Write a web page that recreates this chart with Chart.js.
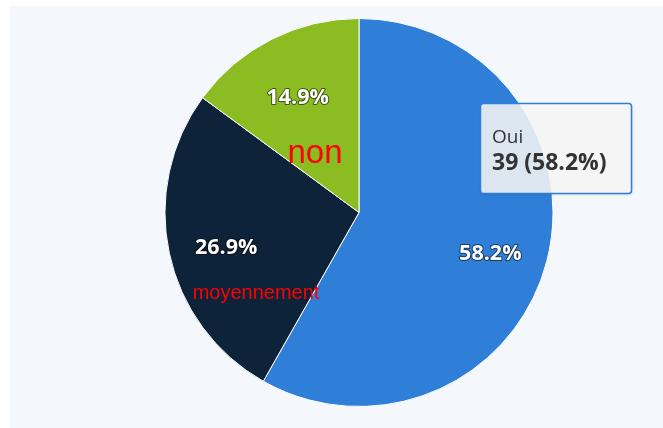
<!DOCTYPE html>
<html>
<head>
<meta charset="utf-8">
<script src="https://cdn.jsdelivr.net/npm/chart.js@4/dist/chart.umd.min.js"></script>
<style>
html,body{margin:0;padding:0;background:#ffffff;}
#wrap{position:relative;width:663px;height:428px;}
</style>
</head>
<body>
<div id="wrap"><canvas id="c" width="663" height="428"></canvas></div>
<script>
const categories = ['Oui', 'moyennement', 'non'];
const counts = [39, 18, 10];
const sliceColors = ['#2f7ed8', '#0d233a', '#8bbc21'];
const annotationTexts = ['non', 'moyennement'];
const tooltipIndex = 0;

const total = counts.reduce((a, b) => a + b, 0);
const pct = v => (v / total * 100).toFixed(1) + '%';

const bgPlugin = {
  id: 'bg',
  beforeDraw(chart) {
    const ctx = chart.ctx;
    ctx.save();
    ctx.fillStyle = '#ffffff';
    ctx.fillRect(0, 0, chart.width, chart.height);
    ctx.fillStyle = '#f4f8fc';
    ctx.fillRect(10, 6, chart.width - 10, chart.height - 6);
    ctx.restore();
  }
};

const labelPlugin = {
  id: 'labels',
  afterDatasetsDraw(chart) {
    const ctx = chart.ctx;
    const meta = chart.getDatasetMeta(0);
    ctx.save();
    ctx.font = 'bold 21.5px "Open Sans", sans-serif';
    ctx.textAlign = 'center';
    ctx.textBaseline = 'middle';
    meta.data.forEach((arc, i) => {
      const p = arc.getProps(['x', 'y', 'startAngle', 'endAngle', 'outerRadius']);
      const mid = (p.startAngle + p.endAngle) / 2;
      const r = p.outerRadius * 0.7;
      const x = p.x + Math.cos(mid) * r;
      const y = p.y + Math.sin(mid) * r + 7;
      const t = pct(counts[i]);
      ctx.lineJoin = 'round';
      ctx.strokeStyle = 'rgba(0,0,0,0.55)';
      ctx.lineWidth = 2;
      ctx.strokeText(t, x, y);
      ctx.fillStyle = '#ffffff';
      ctx.fillText(t, x, y);
    });
    // red annotations
    const c = meta.data[0];
    const cx = c.x, cy = c.y;
    ctx.fillStyle = '#ff0000';
    ctx.textBaseline = 'alphabetic';
    ctx.font = '33px "Liberation Sans", Arial, sans-serif';
    ctx.fillText(annotationTexts[0], cx - 44, cy - 49.5);
    ctx.font = '20px "Liberation Sans", Arial, sans-serif';
    ctx.fillText(annotationTexts[1], cx - 103, cy + 86);

    // tooltip
    const bx = 480.5, by = 103.5, bw = 151, bh = 90, rad = 3;
    ctx.save();
    ctx.shadowColor = 'rgba(0,0,0,0.18)';
    ctx.shadowOffsetX = 1;
    ctx.shadowOffsetY = 1;
    ctx.shadowBlur = 3;
    ctx.beginPath();
    ctx.roundRect(bx, by, bw, bh, rad);
    ctx.fillStyle = 'rgba(251,251,251,0.85)';
    ctx.fill();
    ctx.restore();
    ctx.beginPath();
    ctx.roundRect(bx, by, bw, bh, rad);
    ctx.strokeStyle = sliceColors[tooltipIndex];
    ctx.lineWidth = 1.5;
    ctx.stroke();
    ctx.textAlign = 'left';
    ctx.textBaseline = 'alphabetic';
    ctx.fillStyle = '#333333';
    ctx.font = '19px "Open Sans", sans-serif';
    ctx.fillText(categories[tooltipIndex], 492, 143);
    ctx.font = 'bold 23px "Open Sans", sans-serif';
    ctx.fillText(counts[tooltipIndex] + ' (' + pct(counts[tooltipIndex]) + ')', 492, 170);
    ctx.restore();
  }
};

new Chart(document.getElementById('c'), {
  type: 'pie',
  data: {
    labels: categories,
    datasets: [{
      data: counts,
      backgroundColor: sliceColors,
      borderColor: '#ffffff',
      borderWidth: 1,
      hoverOffset: 0
    }]
  },
  options: {
    responsive: false,
    animation: false,
    events: [],
    layout: { padding: { left: 55, right: 0, top: 18, bottom: 21 } },
    plugins: {
      legend: { display: false },
      tooltip: { enabled: false },
      title: { display: false }
    }
  },
  plugins: [bgPlugin, labelPlugin]
});
</script>
</body>
</html>
